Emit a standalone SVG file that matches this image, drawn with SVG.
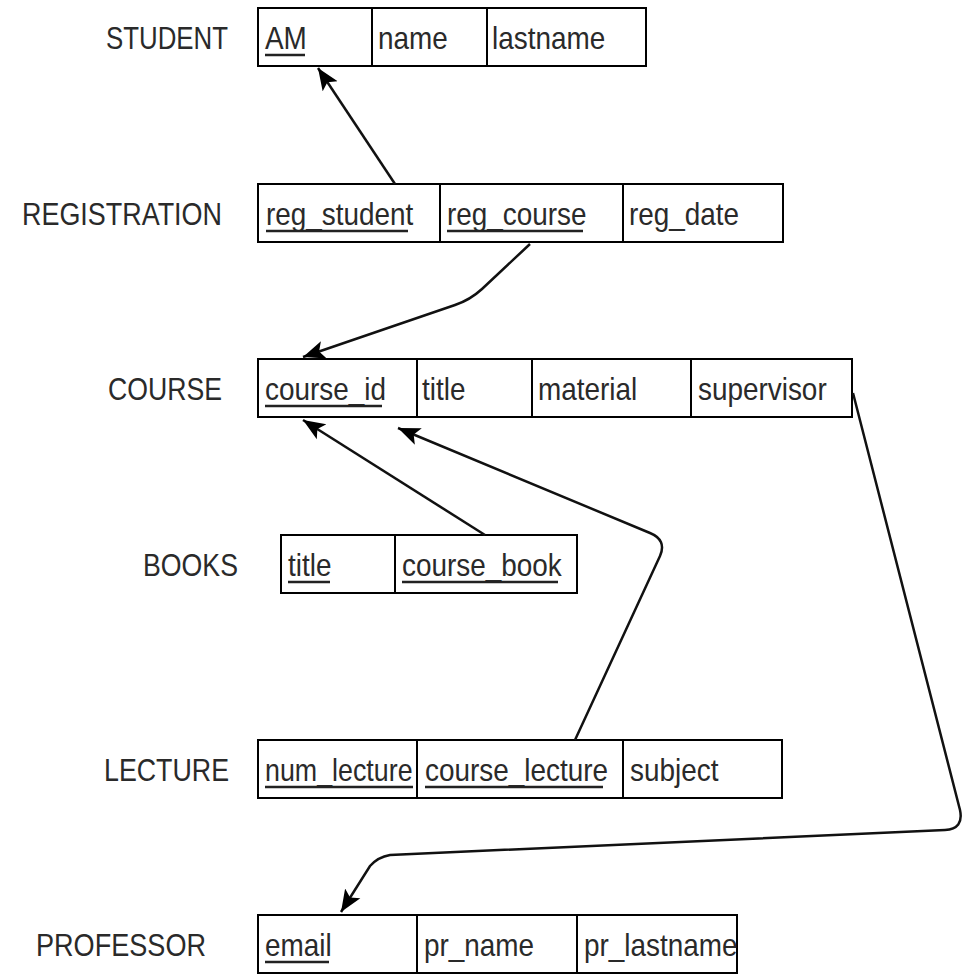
<svg xmlns="http://www.w3.org/2000/svg" width="968" height="974" viewBox="0 0 968 974">
<defs>
<style>
.cell{fill:#fff;stroke:#000;stroke-width:2}
.f{font-family:"Liberation Sans",Arial,sans-serif;font-size:31px;fill:#2a2a2a}
.lbl{font-family:"Liberation Sans",Arial,sans-serif;font-size:31px;fill:#2a2a2a;text-anchor:end}
.ul{stroke:#222;stroke-width:2.5}
.conn{fill:none;stroke:#111;stroke-width:2.5}
</style>
<marker id="arr" markerUnits="userSpaceOnUse" markerWidth="24" markerHeight="20" viewBox="0 0 24 20" refX="22" refY="10" orient="auto">
<path d="M0,1 L22,10 L0,19 L5,10 Z" fill="#000"/>
</marker>
</defs>
<rect width="968" height="974" fill="#fff"/>

<g id="student">
<text class="lbl" x="228" y="49" textLength="122" lengthAdjust="spacingAndGlyphs">STUDENT</text>
<rect class="cell" x="258" y="8" width="114" height="58"/>
<rect class="cell" x="372" y="8" width="115" height="58"/>
<rect class="cell" x="487" y="8" width="159" height="58"/>
<text class="f" transform="translate(265,49) scale(0.9,1)">AM</text>
<line class="ul" x1="265" y1="55" x2="305" y2="55"/>
<text class="f" transform="translate(378,49) scale(0.9,1)">name</text>
<text class="f" transform="translate(492,49) scale(0.9,1)">lastname</text>
</g>

<g id="registration">
<text class="lbl" x="222" y="225" textLength="200" lengthAdjust="spacingAndGlyphs">REGISTRATION</text>
<rect class="cell" x="258" y="184" width="182" height="58"/>
<rect class="cell" x="440" y="184" width="183" height="58"/>
<rect class="cell" x="623" y="184" width="160" height="58"/>
<text class="f" transform="translate(266,225) scale(0.9,1)">reg_student</text>
<line class="ul" x1="266" y1="231" x2="408" y2="231"/>
<text class="f" transform="translate(447,225) scale(0.9,1)">reg_course</text>
<line class="ul" x1="447" y1="231" x2="583" y2="231"/>
<text class="f" transform="translate(629,225) scale(0.9,1)">reg_date</text>
</g>

<g id="course">
<text class="lbl" x="222" y="400" textLength="114" lengthAdjust="spacingAndGlyphs">COURSE</text>
<rect class="cell" x="258" y="359" width="159" height="58"/>
<rect class="cell" x="417" y="359" width="115" height="58"/>
<rect class="cell" x="532" y="359" width="159" height="58"/>
<rect class="cell" x="691" y="359" width="161" height="58"/>
<text class="f" transform="translate(265,400) scale(0.9,1)">course_id</text>
<line class="ul" x1="265" y1="406" x2="382" y2="406"/>
<text class="f" transform="translate(422,400) scale(0.9,1)">title</text>
<text class="f" transform="translate(538,400) scale(0.9,1)">material</text>
<text class="f" transform="translate(698,400) scale(0.9,1)">supervisor</text>
</g>

<g id="books">
<text class="lbl" x="238" y="576" textLength="95" lengthAdjust="spacingAndGlyphs">BOOKS</text>
<rect class="cell" x="281" y="535" width="114" height="58"/>
<rect class="cell" x="395" y="535" width="182" height="58"/>
<text class="f" transform="translate(288,576) scale(0.9,1)">title</text>
<line class="ul" x1="288" y1="582" x2="330" y2="582"/>
<text class="f" transform="translate(402,576) scale(0.9,1)">course_book</text>
<line class="ul" x1="402" y1="582" x2="558" y2="582"/>
</g>

<g id="lecture">
<text class="lbl" x="229" y="781" textLength="125" lengthAdjust="spacingAndGlyphs">LECTURE</text>
<rect class="cell" x="258" y="740" width="159" height="58"/>
<rect class="cell" x="417" y="740" width="206" height="58"/>
<rect class="cell" x="623" y="740" width="159" height="58"/>
<text class="f" transform="translate(265,781) scale(0.9,1)" textLength="164" lengthAdjust="spacingAndGlyphs">num_lecture</text>
<line class="ul" x1="265" y1="787" x2="413" y2="787"/>
<text class="f" transform="translate(425,781) scale(0.9,1)">course_lecture</text>
<line class="ul" x1="425" y1="787" x2="603" y2="787"/>
<text class="f" transform="translate(630,781) scale(0.9,1)">subject</text>
</g>

<g id="professor">
<text class="lbl" x="206" y="956" textLength="170" lengthAdjust="spacingAndGlyphs">PROFESSOR</text>
<rect class="cell" x="258" y="915" width="159" height="58"/>
<rect class="cell" x="417" y="915" width="160" height="58"/>
<rect class="cell" x="577" y="915" width="160" height="58"/>
<text class="f" transform="translate(265,956) scale(0.9,1)">email</text>
<line class="ul" x1="265" y1="962" x2="329" y2="962"/>
<text class="f" transform="translate(424,956) scale(0.9,1)">pr_name</text>
<text class="f" transform="translate(584,956) scale(0.9,1)">pr_lastname</text>
</g>

<g id="connectors">
<path class="conn" marker-end="url(#arr)" d="M395,184 L318,68"/>
<path class="conn" marker-end="url(#arr)" d="M530,244 L482,289 Q470,300 455,305 L303,357"/>
<path class="conn" marker-end="url(#arr)" d="M485,535 L303,420"/>
<path class="conn" marker-end="url(#arr)" d="M575,740 L660,556 Q667,540 650,533 L398,428"/>
<path class="conn" marker-end="url(#arr)" d="M853,393 L960,810 Q964,829 945,830 L390,855 Q378,857 370,866 L341,912"/>
</g>
</svg>
